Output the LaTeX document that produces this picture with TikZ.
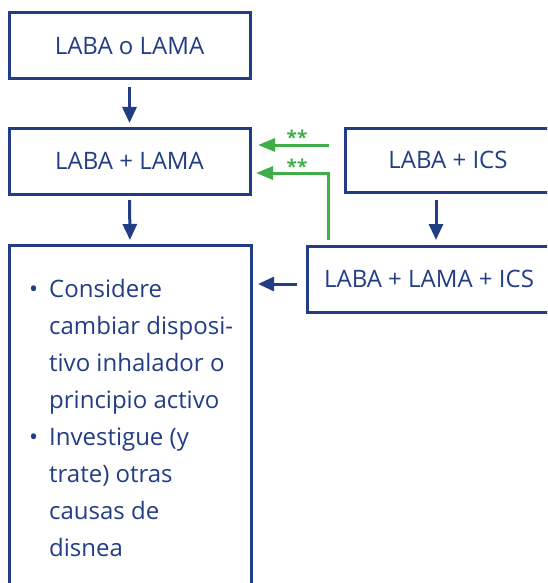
\documentclass[tikz,border=0pt]{standalone}
\usepackage{fontspec}
\setmainfont{Open Sans}
\usetikzlibrary{arrows.meta}
\definecolor{dblue}{HTML}{233D85}
\definecolor{lgreen}{HTML}{3FAE49}
\tikzset{
  box/.style={draw=dblue, line width=3pt, text=dblue, font=\fontsize{24}{27}\selectfont, inner sep=0pt, outer sep=0pt, anchor=north west},
  barrow/.style={draw=dblue, line width=3pt, -{Triangle[length=16pt,width=14pt]}},
  garrow/.style={draw=lgreen, line width=3pt, -{Triangle[length=17pt,width=13pt]}},
  stars/.style={text=lgreen, font=\bfseries\fontsize{19}{19}\selectfont, inner sep=0pt}
}
\begin{document}
\begin{tikzpicture}[x=1pt,y=-1pt]
\useasboundingbox (0,0) rectangle (547,583);
\clip (0,0) rectangle (547,583);
\node[box, minimum width=241pt, minimum height=66pt] (b1) at (9,13) {LABA o LAMA};
\node[box, minimum width=241pt, minimum height=66pt] (b2) at (9,128) {LABA + LAMA};
\node[box, minimum width=242pt, minimum height=360pt] (b3) at (9,245) {};
\node[box, minimum width=206pt, minimum height=64pt] (ics) at (345,128) {LABA + ICS};
\node[box, minimum width=244pt, minimum height=66pt] (lli) at (307,246) {LABA + LAMA + ICS};
\node[text=dblue, font=\fontsize{24}{37}\selectfont, align=left, anchor=north west, inner sep=0pt] (txt) at (49,279) {%
\llap{\textbullet\hspace{11pt}}Considere\\
cambiar dispos\-i-\\
tivo inhalador o\\
principio activo\\
\llap{\textbullet\hspace{11pt}}Investigue (y\\
trate) otras\\
causas de\\
disnea};
\coordinate (icsx) at (436,0);
\coordinate (gx) at (328,240);
\draw[barrow, shorten <=8pt, shorten >=5pt] (b1.south) -- (b2.north);
\draw[barrow, shorten <=6pt, shorten >=5pt] (b2.south) -- (b3.north);
\draw[barrow, shorten <=8pt, shorten >=6pt] (ics.south -| icsx) -- (lli.north -| icsx);
\coordinate (la) at (297,284);
\draw[barrow, shorten >=7pt] (lli.west |- la) ++(-10,0) -- (b3.east |- la);
\coordinate (g1) at (329,145);
\draw[garrow, shorten >=8pt] (g1) -- (b2.east |- g1);
\coordinate (g2) at (328,173);
\draw[garrow, shorten >=6pt] (gx) -- (g2) -- (b2.east |- g2);
\node[stars] (s1) at (297,137) {**};
\node[stars] (s2) at (297,166) {**};
\end{tikzpicture}
\end{document}
